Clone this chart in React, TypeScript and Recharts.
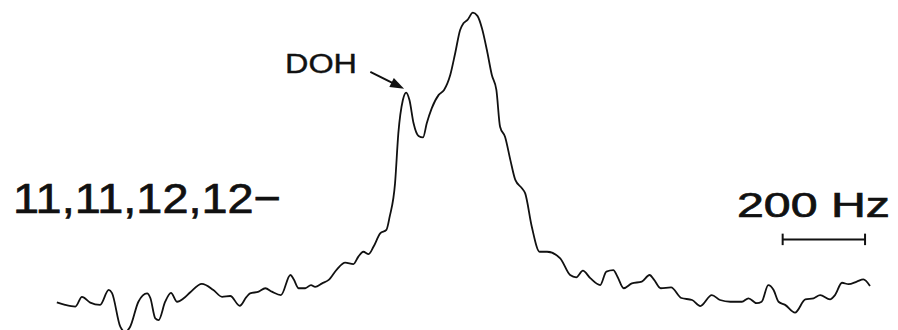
import React from 'react';
import { LineChart, Line, XAxis, YAxis, ReferenceLine, Customized } from 'recharts';

// Frequency offset from the main resonance (Hz) and relative intensity (main peak = 100)
const offsetHz = [
  -1010, -990, -965, -949, -929, -905, -884, -876, -856, -844, -832, -812, -791, -783, -771, -763,
  -747, -733, -718, -702, -686, -658, -630, -609, -589, -566, -550, -541, -520, -504, -488, -466,
  -443, -435, -423, -407, -393, -383, -366, -350, -330, -310, -290, -278, -266, -253, -241, -225,
  -210, -202, -189, -181, -170, -162, -154, -144, -132, -121, -112, -100, -83, -70, -55, -43,
  -31, -23, -13, 0, 11, 22, 34, 46, 57, 66, 78, 91, 103, 119, 127, 143,
  162, 180, 212, 236, 251, 267, 285, 309, 324, 341, 351, 366, 386, 410, 429, 440,
  456, 481, 506, 532, 552, 580, 600, 625, 653, 669, 689, 701, 717, 730, 742, 758,
  782, 807, 827, 843, 867, 879, 896, 912, 932, 948, 964,
];

const intensity = [
  -0.8, -1.7, -2.3, 1.1, -0.9, -1.7, 3.5, 2.4, -9.3, -11.1, -9.3, -0.6, 2.3, 0.7, -6.4, -7.0,
  -0.6, 2.5, -0.6, 0.6, 2.7, 5.6, 3.5, 1.1, 1.4, -2.0, 1.0, 2.3, 2.9, 4.1, 2.9, 1.7,
  8.7, 7.2, 4.1, 4.1, 5.2, 4.6, 5.8, 7.0, 10.7, 13.0, 12.5, 15.1, 16.8, 16.0, 18.6, 23.2,
  24.4, 29.0, 40.6, 58.0, 69.6, 72.2, 69.6, 61.5, 57.1, 56.6, 61.5, 66.7, 71.4, 73.1, 78.3, 85.9,
  94.0, 96.3, 97.5, 100.0, 98.9, 94.6, 87.0, 78.3, 73.1, 60.3, 56.8, 48.7, 41.8, 38.9, 37.1, 25.5,
  16.8, 16.8, 14.5, 8.7, 7.9, 10.2, 7.6, 5.2, 9.9, 10.4, 8.1, 4.1, 5.8, 6.4, 8.7, 7.0,
  4.1, 4.4, 0.7, 0.0, -2.1, 1.7, 0.0, -0.6, -0.6, 0.6, -1.1, -0.6, 5.2, 3.5, -0.6, -1.7,
  -4.4, 0.2, 0.6, 1.7, 0.2, 1.7, 6.0, 5.5, 6.4, 7.2, 4.9,
];

const spectrum = offsetHz.map((hz, i) => ({ hz, intensity: intensity[i] }));

// DOH annotation: arrow tail and head in data units
const dohArrowTail = { hz: -249, intensity: 79.4 };
const dohArrowHead = { hz: -167, intensity: 73.5 };

// 200 Hz scale bar
const scaleBarStartHz = 752;
const scaleBarWidthHz = 200;
const scaleBarLevel = 21.1;
const scaleBarTick = 2.0;

const ink = '#111';
const fontFamily = '"Liberation Sans", Arial, Helvetica, sans-serif';

const ArrowShape = (props: any) => {
  const { x1, y1, x2, y2 } = props;
  const dx = x2 - x1;
  const dy = y2 - y1;
  const len = Math.hypot(dx, dy) || 1;
  const ux = dx / len;
  const uy = dy / len;
  const head = 14;
  const half = 5;
  const bx = x2 - ux * head;
  const by = y2 - uy * head;
  const pts = `${x2},${y2} ${bx - uy * half},${by + ux * half} ${bx + uy * half},${by - ux * half}`;
  return (
    <g>
      <line x1={x1} y1={y1} x2={bx + ux * 2} y2={by + uy * 2} stroke={ink} strokeWidth={2} />
      <polygon points={pts} fill={ink} />
    </g>
  );
};

const Annotations = () => (
  <g fontFamily={fontFamily} fill={ink} stroke={ink} strokeWidth={0.7}>
    <text x={13} y={212.5} fontSize={43} textLength={268} lengthAdjust="spacingAndGlyphs">
      11,11,12,12−
    </text>
    <text x={737} y={216.5} fontSize={34.5} textLength={153} lengthAdjust="spacingAndGlyphs">
      200 Hz
    </text>
    <text x={285} y={73} fontSize={27} textLength={72} lengthAdjust="spacingAndGlyphs" strokeWidth={0.4}>
      DOH
    </text>
  </g>
);

export default function App() {
  const barEnd = scaleBarStartHz + scaleBarWidthHz;
  return (
    <div style={{ position: 'absolute', left: 0, top: 0, width: 898, height: 330, background: '#fff' }}>
      <LineChart width={898} height={330} data={spectrum} margin={{ top: 0, right: 0, bottom: 0, left: 0 }}>
        <XAxis type="number" dataKey="hz" domain={[-1148, 1032]} hide allowDataOverflow />
        <YAxis type="number" domain={[-10.44, 104.42]} hide allowDataOverflow />
        <Line
          type="monotone"
          dataKey="intensity"
          stroke={ink}
          strokeWidth={1.8}
          dot={false}
          activeDot={false}
          isAnimationActive={false}
        />
        <ReferenceLine
          segment={[
            { x: dohArrowTail.hz, y: dohArrowTail.intensity },
            { x: dohArrowHead.hz, y: dohArrowHead.intensity },
          ]}
          shape={ArrowShape}
          ifOverflow="visible"
        />
        <ReferenceLine
          segment={[
            { x: scaleBarStartHz, y: scaleBarLevel },
            { x: barEnd, y: scaleBarLevel },
          ]}
          stroke={ink}
          strokeWidth={2}
          ifOverflow="visible"
        />
        <ReferenceLine
          segment={[
            { x: scaleBarStartHz, y: scaleBarLevel - scaleBarTick },
            { x: scaleBarStartHz, y: scaleBarLevel + scaleBarTick },
          ]}
          stroke={ink}
          strokeWidth={2}
          ifOverflow="visible"
        />
        <ReferenceLine
          segment={[
            { x: barEnd, y: scaleBarLevel - scaleBarTick },
            { x: barEnd, y: scaleBarLevel + scaleBarTick },
          ]}
          stroke={ink}
          strokeWidth={2}
          ifOverflow="visible"
        />
        <Customized component={<Annotations />} />
      </LineChart>
    </div>
  );
}
